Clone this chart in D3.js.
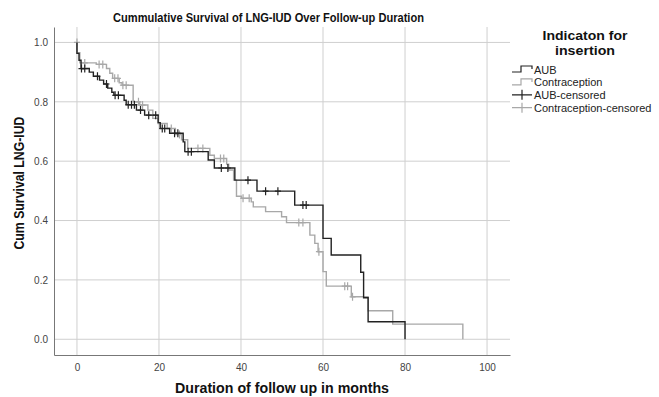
<!DOCTYPE html>
<html>
<head>
<meta charset="utf-8">
<script src="https://cdn.jsdelivr.net/npm/d3@7"></script>
<style>
  body { margin: 0; background: #fff; }
  svg { display: block; font-family: "Liberation Sans", Arial, sans-serif; }
</style>
</head>
<body>
<div id="chart"></div>
<script>
// Kaplan-Meier steps: [month, survival after the drop]
const aubSteps = [
  [0, 1.0], [0, 0.963], [0.5, 0.94], [1, 0.912], [3, 0.90], [4, 0.886], [5.5, 0.873],
  [6.5, 0.86], [7.5, 0.846], [8.5, 0.832], [9, 0.822], [11.5, 0.805], [12, 0.79],
  [14.5, 0.772], [16.5, 0.755], [19.8, 0.73], [20.3, 0.71], [22.6, 0.694],
  [25.9, 0.665], [26.3, 0.632], [32, 0.604], [33.5, 0.577], [38.5, 0.536],
  [43.9, 0.499], [53.1, 0.452], [60, 0.34], [62, 0.284], [69.2, 0.226],
  [69.9, 0.14], [71, 0.059], [80, 0]
];
const aubCensored = [1.1, 1.9, 5, 7.2, 9.3, 10.1, 12.5, 13.3, 14, 15.5, 17.5, 19.2,
  20.8, 21.4, 23.8, 24.6, 27.1, 27.9, 35.2, 36.8, 41.7, 46, 49, 55.1, 55.9];

const contraSteps = [
  [0, 1.0], [0, 0.965], [0.7, 0.931], [4.7, 0.926], [7.2, 0.912], [8, 0.896],
  [8.7, 0.879], [10.3, 0.864], [11, 0.856], [13.7, 0.80], [15.3, 0.789],
  [17.3, 0.772], [18.5, 0.744], [19.8, 0.727], [22, 0.71], [24, 0.69],
  [25.5, 0.672], [27, 0.643], [32.4, 0.62], [33.5, 0.609], [36.5, 0.59],
  [37, 0.57], [38.2, 0.536], [38.9, 0.482], [40.1, 0.475], [42.5, 0.463],
  [43, 0.446], [46, 0.43], [49.9, 0.413], [51.1, 0.393], [56.8, 0.351],
  [58, 0.323], [58.8, 0.295], [60, 0.228], [60.8, 0.179], [66.9, 0.143],
  [71, 0.096], [77, 0.051], [94.1, 0]
];
const contraCensored = [0, 1.9, 5.4, 6.3, 9.2, 10, 11.2, 12, 15, 16, 23, 25, 29.5,
  30.7, 35, 35.8, 40.5, 42, 54.1, 55.1, 59, 65.3, 66, 67.2];

const xTicks = [0, 20, 40, 60, 80, 100];
const yTicks = [0, 0.2, 0.4, 0.6, 0.8, 1.0];

const legendItems = ["AUB", "Contraception", "AUB-censored", "Contraception-censored"];
const colAUB = "#222";
const colContra = "#a8a8a8";

const W = 659, H = 397;
const svg = d3.select("#chart").append("svg").attr("width", W).attr("height", H);

const x = d3.scaleLinear().domain([-5.6, 105.6]).range([54, 510]);
const y = d3.scaleLinear().domain([-0.053, 1.052]).range([355, 27]);

// grid
svg.append("g").selectAll("line").data(xTicks).enter().append("line")
  .attr("x1", d => x(d)).attr("x2", d => x(d))
  .attr("y1", y.range()[1]).attr("y2", y.range()[0])
  .attr("stroke", "#cfcfcf").attr("stroke-width", 1);
svg.append("g").selectAll("line").data(yTicks).enter().append("line")
  .attr("x1", x.range()[0]).attr("x2", x.range()[1])
  .attr("y1", d => y(d)).attr("y2", d => y(d))
  .attr("stroke", "#cfcfcf").attr("stroke-width", 1);

// axes
const xAxis = svg.append("g").attr("transform", `translate(0,${y.range()[0]})`)
  .call(d3.axisBottom(x).tickValues(xTicks).tickSize(0).tickPadding(9).tickFormat(d3.format("d")));
const yAxis = svg.append("g").attr("transform", `translate(${x.range()[0]},0)`)
  .call(d3.axisLeft(y).tickValues(yTicks).tickSize(0).tickPadding(6).tickFormat(d3.format(".1f")));
[xAxis, yAxis].forEach(a => {
  a.select(".domain").attr("stroke", "#777");
  a.selectAll("text").attr("font-size", 10).attr("fill", "#444")
    .attr("font-family", "Liberation Sans, Arial, sans-serif");
});

// curves
const line = d3.line().x(d => x(d[0])).y(d => y(d[1])).curve(d3.curveStepAfter);

function survAt(steps, t) {
  let s = 1;
  steps.forEach(d => { if (d[0] < t) s = d[1]; });
  return s;
}

function drawSeries(steps, censored, color, width) {
  svg.append("path").datum(steps)
    .attr("fill", "none").attr("stroke", color).attr("stroke-width", width)
    .attr("d", line);
  svg.append("g").selectAll("path").data(censored).enter().append("path")
    .attr("d", t => {
      const cx = x(t), cy = y(survAt(steps, t));
      return `M${cx},${cy - 4}V${cy + 4}M${cx - 3},${cy}H${cx + 3}`;
    })
    .attr("stroke", color).attr("stroke-width", 1.2).attr("fill", "none");
}

drawSeries(contraSteps, contraCensored, colContra, 1.4);
drawSeries(aubSteps, aubCensored, colAUB, 1.4);

// titles
svg.append("text").attr("x", 268.5).attr("y", 22).attr("text-anchor", "middle")
  .attr("font-size", 12.5).attr("font-weight", "bold").attr("fill", "#111")
  .attr("textLength", 311).attr("lengthAdjust", "spacingAndGlyphs")
  .text("Cummulative Survival of LNG-IUD Over Follow-up Duration");

svg.append("text").attr("x", 282).attr("y", 393).attr("text-anchor", "middle")
  .attr("font-size", 14.5).attr("font-weight", "bold").attr("fill", "#111")
  .attr("textLength", 214).attr("lengthAdjust", "spacingAndGlyphs")
  .text("Duration of follow up in months");

svg.append("text").attr("transform", "translate(24,183) rotate(-90)")
  .attr("text-anchor", "middle")
  .attr("font-size", 14).attr("font-weight", "bold").attr("fill", "#111")
  .attr("textLength", 133).attr("lengthAdjust", "spacingAndGlyphs")
  .text("Cum Survival LNG-IUD");

// legend
const lg = svg.append("g");
lg.append("text").attr("x", 585).attr("y", 40).attr("text-anchor", "middle")
  .attr("font-size", 13).attr("font-weight", "bold").attr("fill", "#111")
  .attr("textLength", 85).attr("lengthAdjust", "spacingAndGlyphs")
  .text("Indicaton for");
lg.append("text").attr("x", 585).attr("y", 55).attr("text-anchor", "middle")
  .attr("font-size", 13).attr("font-weight", "bold").attr("fill", "#111")
  .attr("textLength", 60).attr("lengthAdjust", "spacingAndGlyphs")
  .text("insertion");

const legColors = [colAUB, colContra, colAUB, colContra];
const items = lg.selectAll("g.item").data(legendItems).enter().append("g")
  .attr("transform", (d, i) => `translate(0,${69 + i * 12.9})`);
items.append("path")
  .attr("d", (d, i) => i < 2 ? "M512,3H521V-3H532V0" : "M512,0H532M522,-5V5")
  .attr("fill", "none").attr("stroke", (d, i) => legColors[i]).attr("stroke-width", 1.2);
items.append("text").attr("x", 534).attr("y", 4.5)
  .attr("font-size", 11).attr("fill", "#222")
  .text(d => d);
</script>
</body>
</html>
